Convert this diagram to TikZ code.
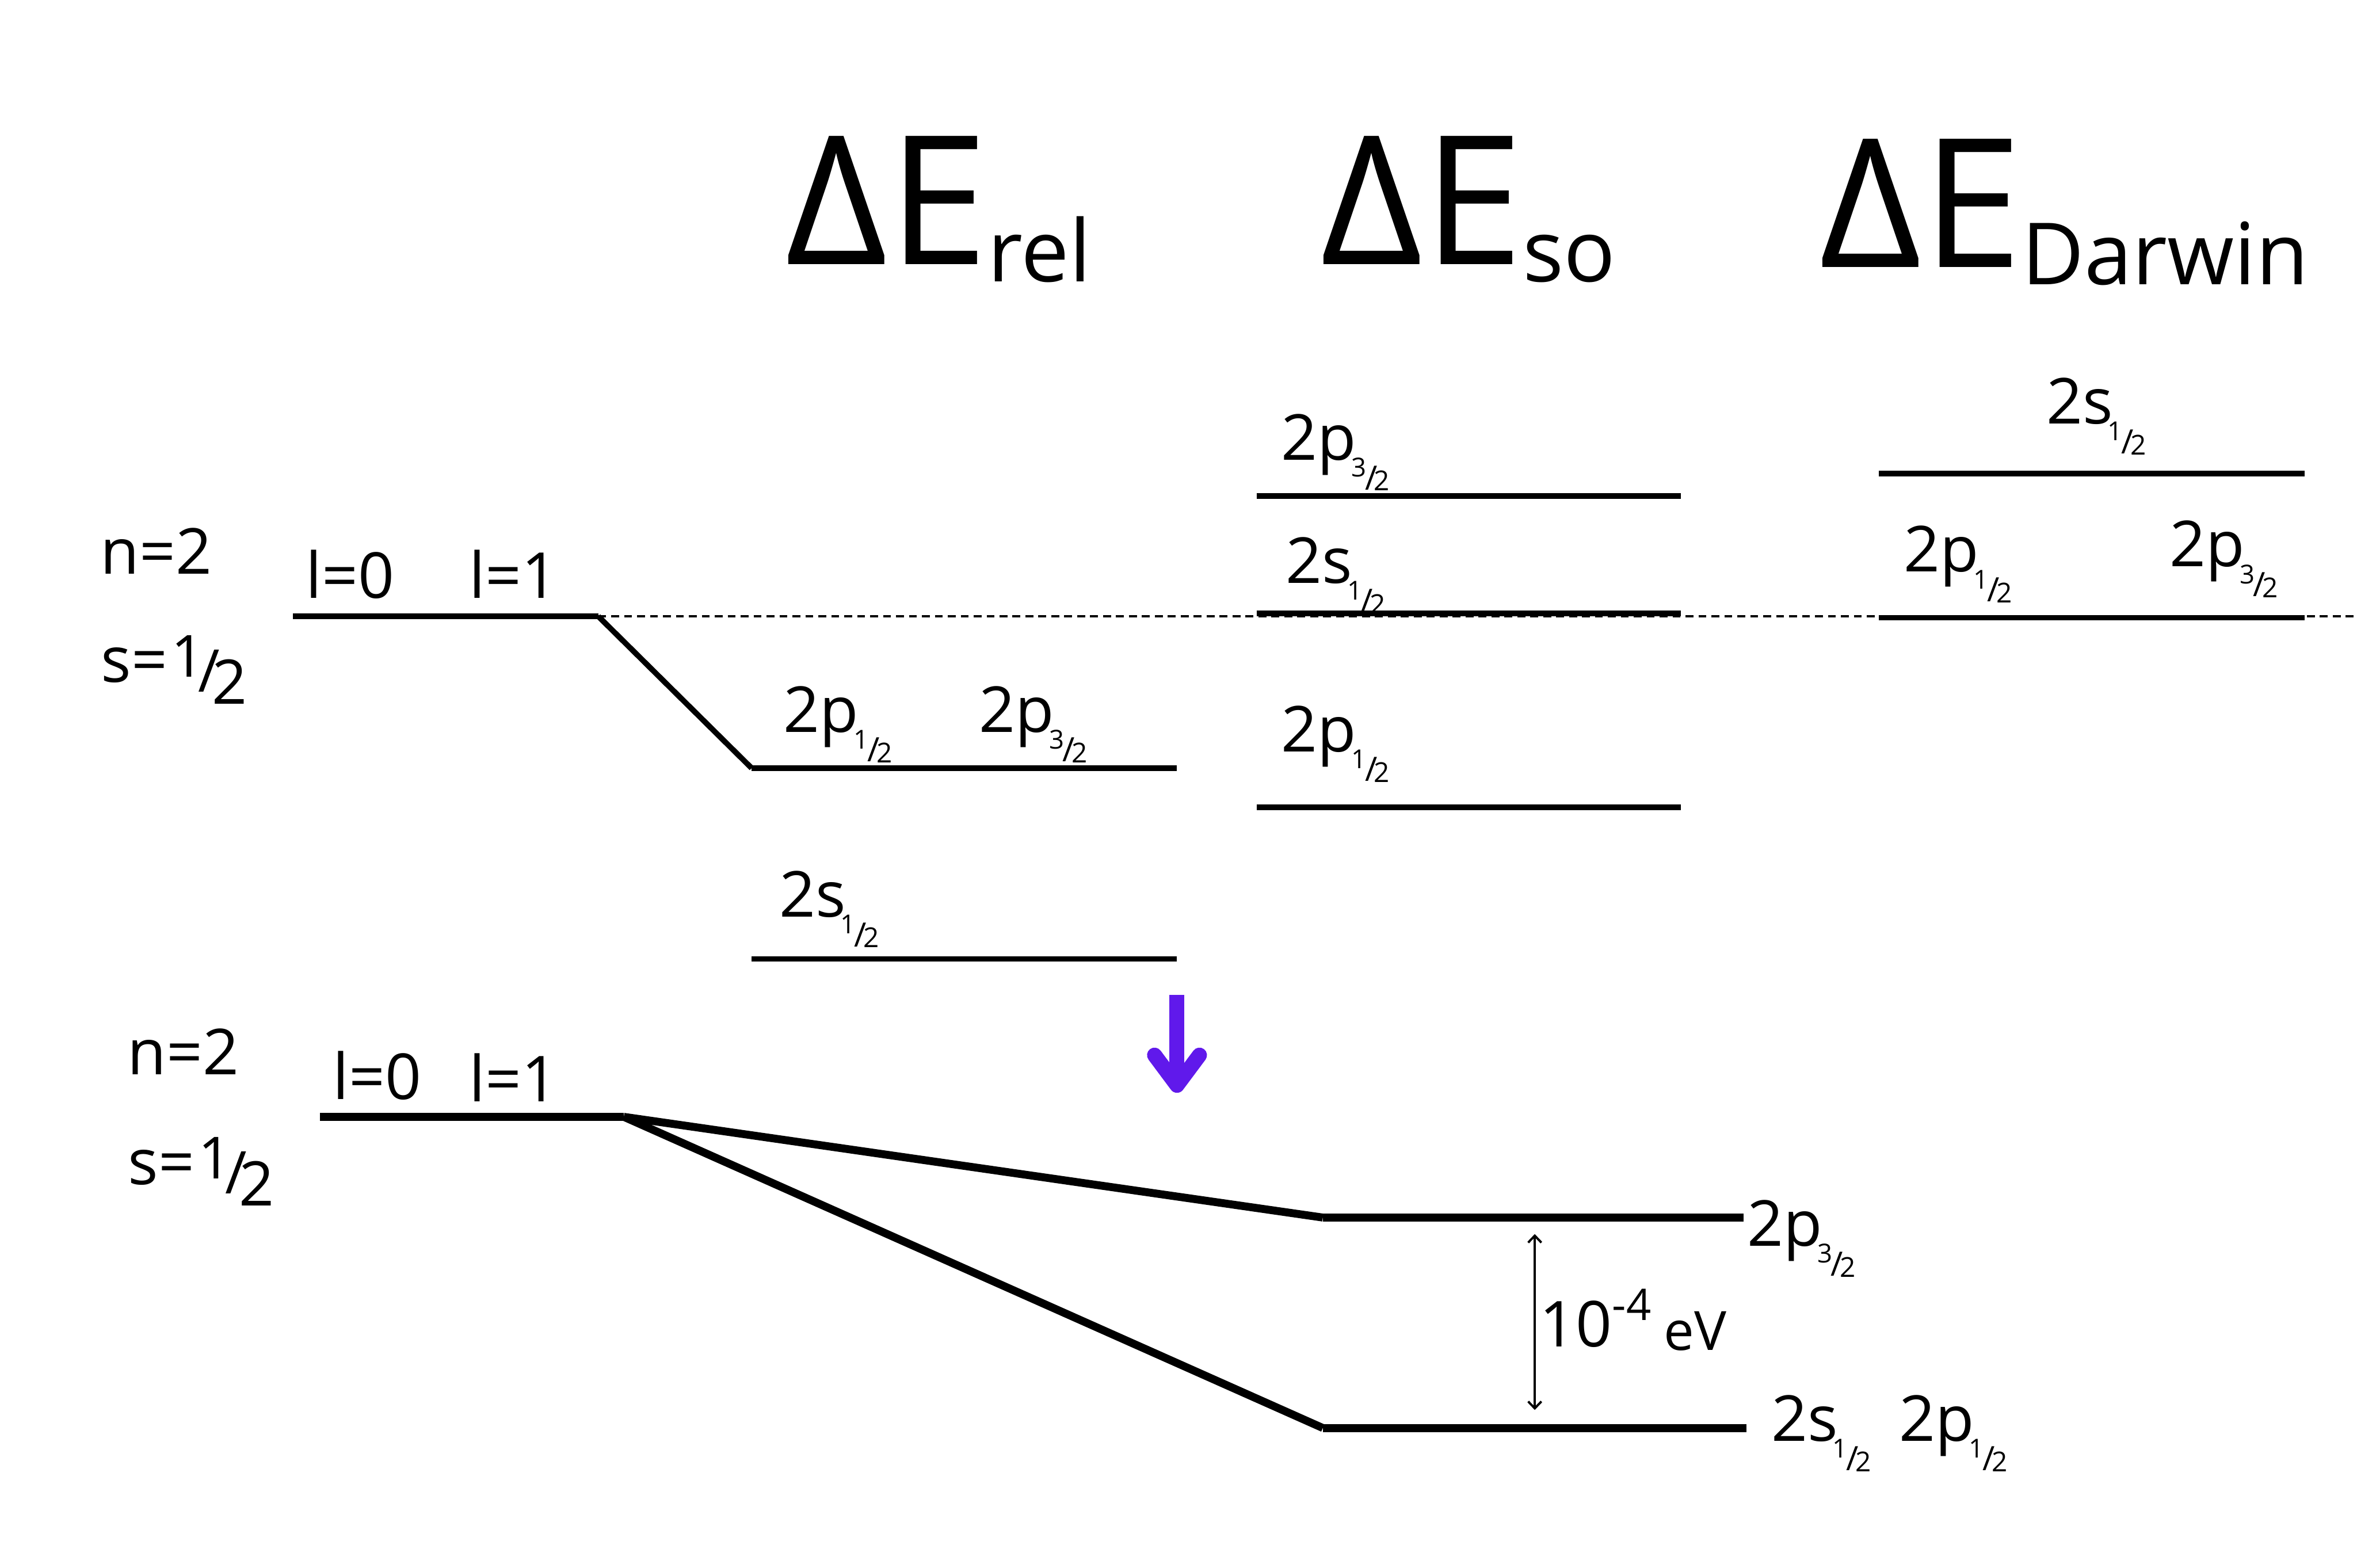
\documentclass[tikz,border=0pt]{standalone}
\usepackage{fontspec}
\setmainfont{Open Sans}
\usetikzlibrary{arrows.meta}

\definecolor{shiftpurple}{RGB}{96,25,235}

\newcommand{\lvlsize}{\fontsize{24}{24}\selectfont}
\newcommand{\headsize}{\fontsize{68}{68}\selectfont}
% small j = 1/2, 3/2 below a level label
\newcommand{\jfrac}[2]{%
  \kern-0.08em\raisebox{-0.265em}{\fontsize{9.9}{9.9}\selectfont#1}%
  \kern-0.02em\raisebox{-0.47em}{\fontsize{12.7}{12.7}\selectfont/}%
  \kern-0.05em\raisebox{-0.485em}{\fontsize{10.4}{10.4}\selectfont#2}}
% the larger 1/2 of s=1/2
\newcommand{\spinfrac}[2]{%
  \kern0.055em\raisebox{0.088em}{\fontsize{22}{22}\selectfont#1}%
  \kern-0.1em\raisebox{-0.147em}{\fontsize{22.3}{22.3}\selectfont/}%
  \kern-0.12em\raisebox{-0.34em}{\fontsize{23.3}{23.3}\selectfont#2}}
\newcommand{\dEsub}[1]{\raisebox{-0.094em}{\fontsize{32.5}{32.5}\selectfont#1}}

\tikzset{
  lvl/.style={line width=2.1pt},
  lvlbold/.style={line width=3pt},
  guide/.style={dash pattern=on 3pt off 1.9pt, line width=0.75pt},
  lbl/.style={anchor=base west, inner sep=0pt, font=\lvlsize},
  heading/.style={anchor=base west, inner sep=0pt, font=\headsize},
  gaparrow/.style={line width=0.85pt, {Straight Barb[length=2.6pt,width=5pt]}-{Straight Barb[length=2.6pt,width=5pt]}},
  shiftarrow/.style={shiftpurple, line width=5.7pt,
    -{Straight Barb[length=11.4pt,width=17pt,line cap=round,line join=round]}}
}

\begin{document}
\begin{tikzpicture}[x=0.2mm, y=-0.2mm]
  \useasboundingbox (0,0) rectangle (1568,1043);

  % headings
  \node[heading] (hrel) at (522,176) {ΔE\dEsub{rel}};
  \node[heading] (hso) at (878,176) {ΔE\dEsub{so}};
  \node[heading] (hdar) at (1210,178) {ΔE\dEsub{Darwin}};

  % level ends, upper diagram
  \coordinate (u0a) at (195,410);
  \coordinate (u0b) at (398,410);
  \coordinate (rpA) at (500,511);
  \coordinate (rpB) at (783,511);
  \coordinate (rsA) at (500,638);
  \coordinate (rsB) at (783,638);
  \coordinate (sp3A) at (836,330);
  \coordinate (sp3B) at (1118,330);
  \coordinate (ssA) at (836,408);
  \coordinate (ssB) at (1118,408);
  \coordinate (sp1A) at (836,537);
  \coordinate (sp1B) at (1118,537);
  \coordinate (dsA) at (1250,315);
  \coordinate (dsB) at (1533,315);
  \coordinate (dpA) at (1250,411);
  \coordinate (dpB) at (1533,411);
  \coordinate (gEnd) at (1568,410);

  \draw[guide] (u0b) -- (gEnd);
  \draw[lvl] (u0a) -- (u0b);
  \draw[lvl] (u0b) -- (rpA);
  \draw[lvl] (rpA) -- (rpB);
  \draw[lvl] (rsA) -- (rsB);
  \draw[lvl] (sp3A) -- (sp3B);
  \draw[lvl] (ssA) -- (ssB);
  \draw[lvl] (sp1A) -- (sp1B);
  \draw[lvl] (dsA) -- (dsB);
  \draw[lvl] (dpA) -- (dpB);

  \node[lbl] (nTop) at (66.5,382) {n=2};
  \node[lbl] (sTop) at (67,454) {s=\spinfrac{1}{2}};
  \node[lbl] (l0Top) at (203,398) {l=0};
  \node[lbl] (l1Top) at (312,398) {l=1};

  \node[lbl] (relP1) at (521,487) {2p\jfrac{1}{2}};
  \node[lbl] (relP3) at (651,487) {2p\jfrac{3}{2}};
  \node[lbl] (relS1) at (518,610) {2s\jfrac{1}{2}};

  \node[lbl] (soP3) at (852,306) {2p\jfrac{3}{2}};
  \node[lbl] (soS1) at (855,388) {2s\jfrac{1}{2}};
  \node[lbl] (soP1) at (852,500) {2p\jfrac{1}{2}};

  \node[lbl] (darS1) at (1361,282) {2s\jfrac{1}{2}};
  \node[lbl] (darP1) at (1266,380.5) {2p\jfrac{1}{2}};
  \node[lbl] (darP3) at (1443,377) {2p\jfrac{3}{2}};

  % all together
  \coordinate (shiftT) at (783,662);
  \coordinate (shiftB) at (783,727);
  \draw[shiftarrow] (shiftT) -- (shiftB);

  % lower diagram
  \coordinate (l0a) at (213,743);
  \coordinate (l0b) at (415,743);
  \coordinate (fp3A) at (880,810);
  \coordinate (fp3B) at (1160,810);
  \coordinate (fsA) at (880,950);
  \coordinate (fsB) at (1162,950);
  \coordinate (gapT) at (1021,821);
  \coordinate (gapB) at (1021,938);

  \draw[lvlbold] (l0a) -- (l0b);
  \draw[lvlbold] (l0b) -- (fp3A);
  \draw[lvlbold] (l0b) -- (fsA);
  \draw[lvlbold] (fp3A) -- (fp3B);
  \draw[lvlbold] (fsA) -- (fsB);
  \draw[gaparrow] (gapT) -- (gapB);

  \node[lbl] (nBot) at (84.6,715) {n=2};
  \node[lbl] (sBot) at (85,788) {s=\spinfrac{1}{2}};
  \node[lbl] (l0Bot) at (221,731.5) {l=0};
  \node[lbl] (l1Bot) at (312,733) {l=1};

  \node[lbl] (finP3) at (1162,829) {2p\jfrac{3}{2}};
  \node[lbl] (finS1) at (1178,958.6) {2s\jfrac{1}{2}};
  \node[lbl] (finP1) at (1263,958.6) {2p\jfrac{1}{2}};
  \node[lbl] (gapLbl) at (1024,896)
    {10\raisebox{0.42em}{\fontsize{16.5}{16.5}\selectfont -4}\kern0.2em\raisebox{-0.05em}{\fontsize{20.5}{20.5}\selectfont eV}};
\end{tikzpicture}
\end{document}
